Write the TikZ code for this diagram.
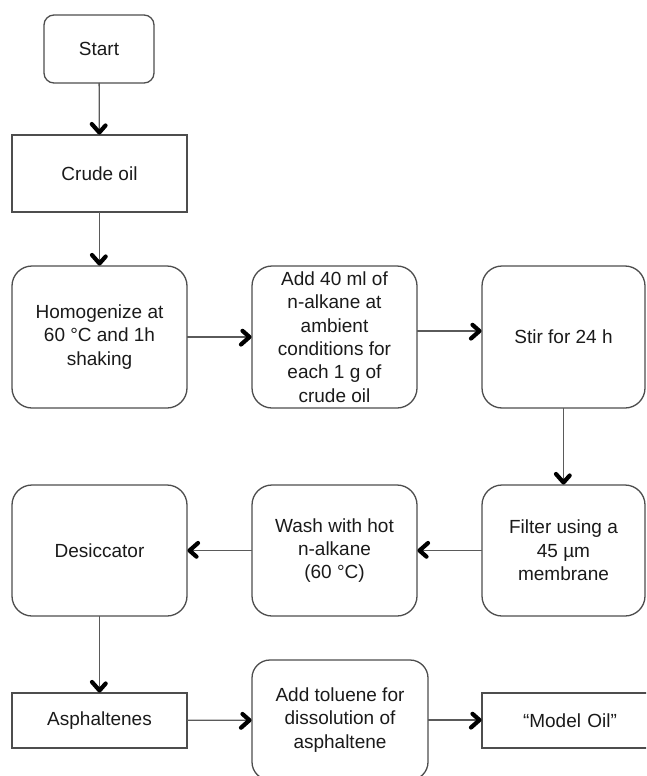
\documentclass[tikz,border=0pt]{standalone}
\usepackage{fontspec}
\setmainfont{Liberation Sans}
\usetikzlibrary{decorations.markings}
\definecolor{boxline}{HTML}{4D4D4D}
\definecolor{conline}{HTML}{5A5A5A}
\definecolor{txt}{HTML}{1A1A1A}
\begin{document}
\begin{tikzpicture}[x=1pt,y=-1pt,
  base/.style={draw=boxline, line width=1.3pt, inner sep=0pt, outer sep=0pt, align=center,
    text=txt, font=\fontsize{19}{23.3}\selectfont},
  plainbox/.style={base, rectangle},
  roundbox/.style={base, rectangle, rounded corners=#1},
  roundbox/.default=20pt,
  conn/.style={draw=conline, line width=1.3pt, shorten >=2pt,
    decoration={markings, mark=at position 1 with {
      \draw[black, line width=4.2pt, line cap=round, line join=round]
        (-11pt,-7.5pt) -- (-2.5pt,0pt) -- (-11pt,7.5pt);}},
    postaction=decorate}
]
\useasboundingbox (0,0) rectangle (646,776);
\clip (0,0) rectangle (646,776);
\node[roundbox=10pt, minimum width=110pt, minimum height=68pt] (start) at (99,49) {Start};
\node[plainbox, minimum width=175pt, minimum height=77pt] (crude) at (99.5,173.5) {Crude oil};
\node[roundbox, minimum width=175pt, minimum height=142pt] (homog) at (99.5,337) {Homogenize at\\60 °C and 1h\\shaking};
\node[roundbox, minimum width=165pt, minimum height=142pt] (add) at (334.5,337) {Add 40 ml of\\n-alkane at\\ambient\\conditions for\\each 1 g of\\crude oil};
\node[roundbox, minimum width=163pt, minimum height=142pt] (stir) at (563.5,337) {Stir for 24 h};
\node[roundbox, minimum width=163pt, minimum height=131pt] (filter) at (563.5,550.5) {Filter using a\\45 µm\\membrane};
\node[roundbox, minimum width=165pt, minimum height=131pt] (wash) at (334.5,550.5) {Wash with hot\\n-alkane\\(60 °C)};
\node[roundbox, minimum width=175pt, minimum height=131pt] (desic) at (99.5,550.5) {Desiccator};
\node[plainbox, minimum width=175pt, minimum height=55pt] (asph) at (99.5,720.5) {Asphaltenes};
\node[roundbox=18pt, minimum width=176pt, minimum height=120pt] (tol) at (340,720) {Add toluene for\\dissolution of\\asphaltene};
\node[plainbox, minimum width=176pt, minimum height=55pt, text width=164pt] (model) at (570,720.5) {“Model Oil”};
\draw[conn] (start) -- (crude);
\draw[conn] (crude) -- (homog);
\draw[conn] (homog) -- (add);
\draw[conn] ([yshift=6pt]add.east) -- ([yshift=6pt]stir.west);
\draw[conn] (stir) -- (filter);
\draw[conn] (filter) -- (wash);
\draw[conn] (wash) -- (desic);
\draw[conn] (desic) -- (asph);
\draw[conn] (asph) -- (tol);
\draw[conn] (tol.east) -- (model.west |- tol.east);
\end{tikzpicture}
\end{document}
